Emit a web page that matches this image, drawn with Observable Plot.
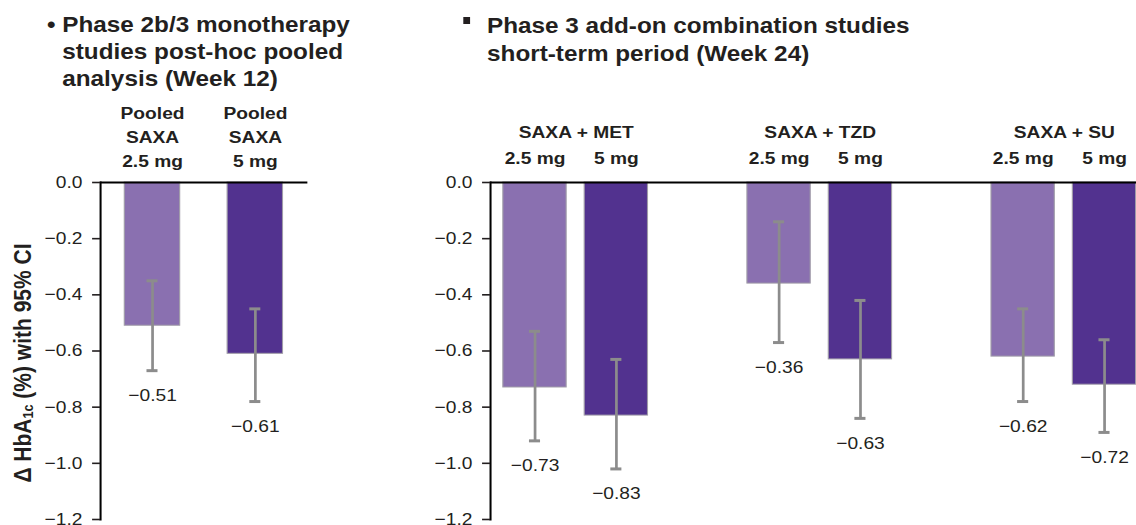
<!DOCTYPE html>
<html><head><meta charset="utf-8">
<script src="https://cdn.jsdelivr.net/npm/d3@7"></script>
<script src="https://cdn.jsdelivr.net/npm/@observablehq/plot@0.6"></script>
<style>
html,body{margin:0;padding:0;background:#fff;overflow:hidden;}
#root{position:relative;width:1005.3px;height:525px;transform:scaleX(1.13);transform-origin:0 0;font-family:"Liberation Sans",Arial,sans-serif;color:#231f20;}
.title{position:absolute;font-weight:bold;font-size:21.5px;line-height:27px;white-space:nowrap;}
#t1{left:41.6px;top:12px;padding-left:13.5px;text-indent:-13.5px;}
#t2{left:431px;top:12px;line-height:28px;}
#sq{position:absolute;left:409.7px;top:17px;width:6.2px;height:7px;background:#231f20;}
#ylab{position:absolute;left:19.5px;top:363px;transform:translate(-50%,-50%) rotate(-90deg);font-weight:bold;font-size:21px;white-space:nowrap;}
#ylab sub{font-size:60%;vertical-align:-0.15em;line-height:0;}
svg{position:absolute;top:0;}
</style></head><body><div id="root">
<div class="title" id="t1">• Phase 2b/3 monotherapy<br>studies post-hoc pooled<br>analysis (Week 12)</div>
<div id="sq"></div>
<div class="title" id="t2">Phase 3 add-on combination studies<br>short-term period (Week 24)</div>
<div id="ylab">Δ HbA<sub>1c</sub> (%) with 95% CI</div>
</div>
<script>
// ---- data ----
const doses = ["2.5 mg", "5 mg"];
const barColors = ["#8a70b0", "#52328f"];
const yTicks = [0, -0.2, -0.4, -0.6, -0.8, -1.0, -1.2];

const pooledLabels = ["Pooled\nSAXA\n2.5 mg", "Pooled\nSAXA\n5 mg"];
const pooledMeans = [-0.51, -0.61];
const pooledLow = [-0.67, -0.78];
const pooledHigh = [-0.35, -0.45];

const groups = ["SAXA + MET", "SAXA + TZD", "SAXA + SU"];
const comboMeans = [-0.73, -0.83, -0.36, -0.63, -0.62, -0.72];
const comboLow = [-0.92, -1.02, -0.57, -0.84, -0.78, -0.89];
const comboHigh = [-0.53, -0.63, -0.14, -0.42, -0.45, -0.56];

// ---- build tables ----
const pooledRows = pooledLabels.map((k, i) => ({key: k, dose: doses[i], mean: pooledMeans[i], low: pooledLow[i], high: pooledHigh[i]}));
const comboRows = [];
const comboDomain = [];
groups.forEach((g, gi) => {
  doses.forEach((d, di) => {
    const i = gi * doses.length + di;
    comboRows.push({key: g + "|" + d, group: g, dose: d, mean: comboMeans[i], low: comboLow[i], high: comboHigh[i]});
    comboDomain.push(g + "|" + d);
  });
  if (gi < groups.length - 1) comboDomain.push("gap" + gi);
});

const fmtTick = d3.format(".1f");
const fmtVal = d3.format(".2f");
const CAP = 10.3;
const INK = "#231f20";

function panel({rows, domain, tickFormat, left, marginLeft, width, pi, po, headerPad, extra}) {
  const rangeW = width - marginLeft;
  const step = rangeW / (domain.length - pi + 2 * po);
  const bw = step * (1 - pi);
  const inset = (bw - CAP) / 2;
  const err = {x: "key", stroke: "#8c8c8c"};
  const svg = Plot.plot({
    width, height: 525, marginTop: 182, marginBottom: 6, marginLeft, marginRight: 0,
    style: {background: "transparent", overflow: "visible", maxWidth: "none", fontFamily: "Liberation Sans, Arial, sans-serif", color: INK},
    x: {domain, paddingInner: pi, paddingOuter: po},
    y: {domain: [-1.2, 0]},
    color: {domain: doses, range: barColors},
    marks: [
      Plot.barY(rows, {x: "key", y: "mean", fill: "dose", stroke: "#a09ca8", strokeWidth: 1}),
      Plot.ruleX(rows, {...err, y1: "high", y2: "low", strokeWidth: 2.4}),
      Plot.tickY(rows, {...err, y: "low", strokeWidth: 3, insetLeft: inset, insetRight: inset}),
      Plot.tickY(rows, {...err, y: "high", strokeWidth: 3, insetLeft: inset, insetRight: inset}),
      Plot.text(rows, {x: "key", y: "low", text: d => fmtVal(d.mean), dy: 25, fontSize: 17, fill: INK}),
      Plot.ruleY([0], {stroke: "#000", strokeWidth: 2}),
      Plot.frame({anchor: "left", stroke: "#000", strokeWidth: 1.8}),
      Plot.axisY({ticks: yTicks, tickFormat: fmtTick, tickSize: 7, tickPadding: 9, fontSize: 17, label: null, strokeWidth: 1.6, color: INK}),
      Plot.axisX({anchor: "top", tickFormat, tickSize: 0, tickPadding: headerPad, fontSize: 17, fontWeight: "bold", label: null, lineHeight: 1.41, color: INK}),
      ...(extra ? extra(step) : [])
    ]
  });
  svg.style.left = left + "px";
  document.getElementById("root").appendChild(svg);
}

panel({rows: pooledRows, domain: pooledLabels, tickFormat: d => d, left: 0, marginLeft: 88.5, width: 272, pi: 0.457, po: 0.234, headerPad: 16});

panel({rows: comboRows, domain: comboDomain, tickFormat: k => k.startsWith("gap") ? "" : k.split("|")[1],
  left: 360, marginLeft: 73.6, width: 656.3, pi: 0.224, po: 0.114, headerPad: 18,
  extra: step => [Plot.text(groups, {x: g => g + "|" + doses[0], text: d => d, frameAnchor: "top", dy: -44, dx: step / 2, lineAnchor: "bottom", fontSize: 17, fontWeight: "bold", fill: INK})]
});
</script>
</body></html>
